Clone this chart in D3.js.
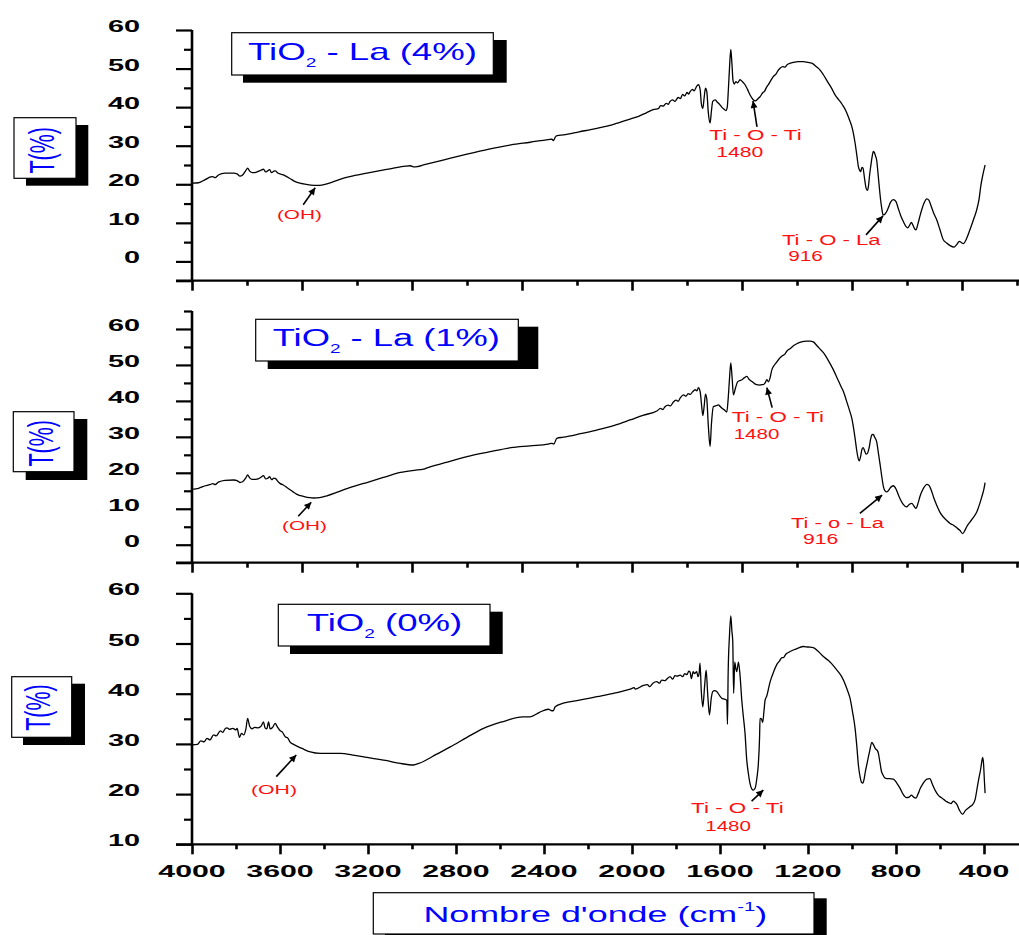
<!DOCTYPE html>
<html>
<head>
<meta charset="utf-8">
<script src="https://cdn.jsdelivr.net/npm/d3@7"></script>
<style>
  html, body { margin: 0; padding: 0; background: #fff; }
  svg { display: block; }
  text { font-family: "Liberation Sans", Arial, Helvetica, sans-serif; }
</style>
</head>
<body>
<svg id="chart" width="1019" height="935"></svg>
<script>
// FTIR spectra, [wavenumber (cm-1), transmittance (%)]
const spectrumLa4 = [
  [4000,20.3],[3970,20.4],[3940,21.2],[3915,21.9],[3905,22.0],[3895,21.7],[3880,22.4],[3850,22.9],
  [3810,22.9],[3795,22.7],[3782,22.1],[3770,22.4],[3755,23.6],[3747,24.2],[3738,23.4],[3725,23.0],
  [3710,23.1],[3697,23.4],[3688,23.6],[3675,23.9],[3665,23.2],[3658,23.4],[3647,23.8],[3638,23.0],
  [3628,23.4],[3620,23.5],[3610,22.9],[3595,22.6],[3576,22.2],[3555,21.5],[3538,20.9],[3510,20.3],
  [3493,20.1],[3460,19.8],[3432,19.7],[3410,19.8],[3387,20.1],[3350,20.8],[3311,21.6],[3260,22.3],
  [3205,22.9],[3140,23.6],[3084,24.2],[3030,24.7],[3008,24.8],[2990,24.5],[2975,24.6],[2948,25.0],
  [2850,26.4],[2750,27.8],[2650,29.1],[2550,30.2],[2463,30.9],[2380,31.6],[2364,31.7],[2358,31.3],
  [2348,32.3],[2340,32.6],[2312,32.8],[2240,33.6],[2160,34.5],[2080,35.6],[2009,36.9],[1970,37.6],
  [1933,38.6],[1900,39.4],[1880,39.6],[1870,40.4],[1857,40.3],[1845,41.0],[1835,40.7],[1827,41.5],
  [1815,41.9],[1805,41.5],[1790,42.5],[1780,42.2],[1770,43.3],[1760,42.9],[1750,43.8],[1742,43.4],
  [1736,44.0],[1725,44.6],[1718,44.2],[1705,45.5],[1698,45.8],[1690,44.5],[1685,41.0],[1678,39.7],
  [1672,42.5],[1666,44.9],[1660,44.0],[1653,38.5],[1645,35.9],[1639,39.0],[1633,41.5],[1622,41.9],
  [1614,41.4],[1607,41.0],[1600,40.6],[1592,40.0],[1582,39.5],[1573,39.1],[1567,40.0],[1562,44.5],
  [1556,51.0],[1551,55.0],[1546,51.5],[1541,47.0],[1535,46.0],[1528,46.6],[1520,46.3],[1509,47.1],
  [1498,46.6],[1486,45.8],[1475,44.6],[1464,43.2],[1450,42.0],[1440,41.6],[1436,41.7],[1425,42.3],
  [1418,42.7],[1405,43.8],[1398,44.1],[1388,45.2],[1375,46.3],[1368,47.0],[1358,47.9],[1345,48.6],
  [1335,49.6],[1327,50.1],[1315,50.5],[1305,50.4],[1295,51.0],[1280,51.4],[1267,51.6],[1245,51.8],
  [1221,51.8],[1200,51.6],[1183,51.4],[1160,50.4],[1145,49.6],[1130,48.4],[1110,46.5],[1090,44.6],
  [1077,43.2],[1060,41.9],[1050,41.2],[1039,40.2],[1025,38.7],[1012,36.8],[1001,35.0],[993,33.0],
  [986,30.7],[978,27.5],[971,24.6],[965,23.6],[960,23.3],[955,24.4],[950,24.2],[943,21.5],
  [936,19.0],[930,18.4],[925,19.6],[920,22.4],[915,24.6],[909,27.0],[903,28.5],[898,28.2],
  [893,27.3],[888,26.3],[882,23.0],[876,19.3],[870,16.0],[864,13.5],[859,12.1],[854,12.1],
  [847,12.5],[840,13.2],[835,13.9],[825,15.3],[812,16.0],[800,15.5],[790,13.8],[778,11.8],
  [767,10.4],[755,9.1],[747,8.7],[738,9.4],[730,10.1],[723,9.4],[715,8.4],[709,8.2],
  [700,9.8],[690,12.0],[683,13.4],[672,15.2],[660,16.2],[650,15.8],[640,14.3],[628,12.4],
  [615,10.8],[600,8.2],[585,5.6],[570,4.8],[554,4.1],[536,3.7],[525,4.3],[512,5.2],
  [503,4.9],[494,4.6],[480,5.8],[464,8.2],[448,10.8],[433,13.4],[422,16.3],[415,19.4],
  [405,22.5],[395,25.0]
];

const spectrumLa1 = [
  [4000,15.4],[3970,15.7],[3940,16.4],[3915,16.8],[3905,17.0],[3895,16.7],[3880,17.4],[3850,17.9],
  [3810,18.0],[3795,17.8],[3782,17.3],[3770,17.5],[3755,18.6],[3747,19.4],[3738,18.6],[3727,18.2],
  [3710,18.2],[3697,18.4],[3688,18.7],[3675,19.2],[3665,18.3],[3655,18.5],[3647,18.9],[3638,18.1],
  [3628,18.5],[3620,18.4],[3610,17.6],[3599,17.0],[3585,16.6],[3569,15.9],[3545,14.9],[3523,14.0],
  [3490,13.4],[3465,13.1],[3447,13.0],[3420,13.1],[3387,13.6],[3340,14.6],[3296,15.6],[3250,16.5],
  [3205,17.3],[3130,18.7],[3053,20.1],[2990,20.7],[2948,21.0],[2935,21.3],[2850,22.8],[2750,24.5],
  [2650,25.8],[2550,27.0],[2463,27.5],[2380,28.0],[2364,28.2],[2355,28.0],[2342,29.6],[2312,29.9],
  [2240,30.8],[2160,31.9],[2080,33.2],[2009,34.7],[1950,36.0],[1887,37.2],[1870,37.9],[1860,37.6],
  [1850,38.4],[1835,38.8],[1825,38.6],[1812,39.7],[1800,40.2],[1790,39.9],[1780,40.9],[1766,41.7],
  [1755,41.3],[1745,42.0],[1735,41.8],[1725,42.5],[1713,43.1],[1705,42.8],[1698,43.7],[1690,42.5],
  [1684,39.0],[1678,35.9],[1672,38.5],[1666,41.9],[1660,40.5],[1653,33.0],[1645,27.3],[1639,33.5],
  [1630,38.4],[1620,38.6],[1607,38.9],[1600,38.5],[1592,38.0],[1580,37.5],[1569,36.9],[1563,40.5],
  [1557,46.0],[1551,50.6],[1545,46.5],[1539,41.7],[1530,43.5],[1520,45.3],[1512,45.6],[1500,45.9],
  [1490,46.4],[1478,46.8],[1468,46.0],[1455,45.4],[1443,44.8],[1433,44.5],[1420,44.4],[1410,44.5],
  [1403,44.5],[1395,45.0],[1387,45.9],[1380,45.3],[1372,46.5],[1365,48.5],[1357,49.6],[1345,50.6],
  [1330,51.8],[1315,52.6],[1305,53.0],[1297,53.8],[1280,54.6],[1265,55.4],[1251,55.9],[1230,56.4],
  [1206,56.6],[1190,56.6],[1176,56.4],[1160,55.4],[1145,54.4],[1130,53.4],[1110,51.5],[1085,48.7],
  [1065,46.0],[1050,44.0],[1039,42.6],[1025,40.0],[1012,37.5],[1001,35.2],[993,32.5],[986,29.6],
  [978,26.0],[971,23.8],[967,23.3],[960,24.8],[955,26.5],[949,27.0],[942,26.0],[936,25.2],
  [930,25.4],[922,27.0],[915,29.5],[909,30.6],[903,30.7],[898,30.0],[888,28.7],[880,25.5],
  [872,22.2],[864,18.7],[857,16.1],[850,15.0],[842,14.7],[835,15.0],[825,15.9],[812,16.4],
  [800,15.5],[790,14.0],[780,12.6],[767,11.2],[752,10.5],[740,11.2],[728,11.5],[718,10.7],
  [709,10.1],[700,11.5],[690,13.6],[683,14.7],[672,16.0],[660,16.8],[650,16.5],[640,15.2],
  [628,13.0],[615,11.0],[600,9.0],[585,7.7],[570,6.8],[554,5.9],[540,5.5],[524,4.7],
  [510,4.0],[497,3.1],[485,4.2],[475,5.4],[464,6.3],[448,7.6],[433,9.1],[420,11.3],
  [410,13.3],[400,15.6],[395,17.3]
];

const spectrumTiO2 = [
  [4000,29.8],[3975,29.9],[3960,30.6],[3945,30.4],[3932,31.1],[3918,30.8],[3902,31.8],[3890,31.6],
  [3871,32.6],[3860,32.3],[3850,33.0],[3841,33.2],[3830,32.9],[3815,33.1],[3800,32.8],[3795,33.1],
  [3784,31.3],[3775,32.1],[3765,31.8],[3755,33.0],[3747,35.1],[3738,33.5],[3727,33.0],[3715,33.3],
  [3700,33.2],[3685,33.6],[3675,34.4],[3668,33.2],[3660,33.0],[3652,34.4],[3645,33.0],[3635,33.2],
  [3622,34.1],[3612,33.4],[3599,32.6],[3590,32.4],[3576,31.4],[3565,31.2],[3555,30.4],[3538,29.9],
  [3500,29.1],[3462,28.4],[3417,28.1],[3370,28.1],[3326,28.1],[3260,27.7],[3205,27.3],[3120,26.7],
  [3053,26.1],[2993,25.8],[2970,26.1],[2948,26.5],[2890,27.9],[2826,29.4],[2750,31.3],[2675,33.1],
  [2590,34.4],[2496,35.4],[2463,35.4],[2420,36.3],[2380,36.9],[2370,36.7],[2358,36.6],[2349,37.4],
  [2312,38.1],[2240,38.7],[2160,39.4],[2080,40.1],[2009,40.9],[1990,41.2],[1985,40.9],[1950,41.6],
  [1930,41.8],[1920,41.4],[1905,42.1],[1887,42.4],[1875,42.1],[1865,42.7],[1850,42.6],[1840,43.0],
  [1827,43.4],[1815,42.9],[1805,43.6],[1795,43.5],[1781,43.7],[1770,43.4],[1760,44.0],[1750,43.8],
  [1742,44.5],[1736,44.3],[1730,43.0],[1722,44.4],[1716,44.0],[1706,44.4],[1700,43.4],[1695,44.0],
  [1691,46.1],[1685,40.5],[1678,37.4],[1670,41.5],[1663,44.7],[1656,40.0],[1648,35.8],[1640,39.0],
  [1633,40.4],[1625,40.6],[1614,40.4],[1600,39.5],[1592,39.1],[1580,38.9],[1569,38.7],[1566,33.9],
  [1563,44.0],[1557,51.5],[1551,55.5],[1546,52.5],[1542,50.4],[1538,40.1],[1533,46.3],[1528,45.0],
  [1524,44.4],[1516,46.3],[1509,43.7],[1501,38.7],[1494,35.5],[1486,32.0],[1479,27.1],[1471,24.1],
  [1464,22.2],[1455,21.0],[1449,20.8],[1440,21.2],[1432,23.3],[1426,25.8],[1420,31.5],[1418,35.1],
  [1412,35.0],[1406,34.3],[1400,36.6],[1395,38.7],[1387,39.6],[1372,42.4],[1355,44.5],[1342,45.8],
  [1330,46.5],[1318,47.2],[1312,47.2],[1300,47.9],[1285,48.3],[1267,48.7],[1245,49.1],[1221,49.4],
  [1200,49.3],[1176,49.2],[1155,48.5],[1130,47.4],[1110,46.7],[1100,46.3],[1085,45.6],[1065,44.5],
  [1047,43.4],[1030,41.8],[1020,40.6],[1009,39.1],[998,36.5],[986,33.1],[978,29.5],[971,25.8],
  [963,23.4],[956,22.3],[951,22.2],[945,23.0],[940,24.3],[933,25.8],[920,28.5],[910,30.3],
  [902,29.8],[893,29.0],[885,28.7],[880,28.1],[873,26.3],[866,24.5],[860,23.9],[850,23.2],
  [842,23.1],[830,23.1],[812,23.0],[795,22.1],[782,21.2],[768,20.0],[752,19.3],[740,19.4],
  [730,19.8],[720,19.4],[709,19.2],[700,20.0],[690,21.1],[676,22.2],[660,23.0],[646,23.1],
  [635,22.0],[620,20.6],[608,19.8],[595,19.3],[582,18.9],[570,18.5],[560,18.3],[550,18.1],
  [540,18.6],[530,18.3],[524,18.0],[512,16.8],[497,16.0],[485,16.7],[475,17.1],[464,17.5],
  [452,17.9],[440,19.0],[430,21.5],[426,22.5],[415,25.0],[406,27.3],[402,26.0],[398,22.5],
  [395,20.2]
];

// Sample names shown in each panel: base formula, subscript, remainder
const sampleNames = [
  ["TiO", "2", " - La (4%)"],
  ["TiO", "2", " - La (1%)"],
  ["TiO", "2", " (0%)"]
];

// Tick values
const xTicksLabeled = [4000, 3600, 3200, 2800, 2400, 2000, 1600, 1200, 800, 400];
const xMinorLabeled = [3800, 3400, 3000, 2600, 2200, 1800, 1400, 1000, 600];
const xTicksPlain = [4000, 3500, 3000, 2500, 2000, 1500, 1000, 500];
const xMinorPlain = [3750, 3250, 2750, 2250, 1750, 1250, 750, 250];
const yTicksTop = [0, 10, 20, 30, 40, 50, 60];
const yMinorTop = [5, 15, 25, 35, 45, 55];
const yTicksMid = [0, 10, 20, 30, 40, 50, 60];
const yMinorMid = [5, 15, 25, 35, 45, 55, 65];
const yTicksBottom = [10, 20, 30, 40, 50, 60];
const yMinorBottom = [15, 25, 35, 45, 55];

// Assigned absorption bands: [wavenumber, transmittance at arrow tip, label lines]
const bandsLa4 = [
  [3440, 19.1, ["(OH)"]],
  [1450, 41.6, ["Ti - O - Ti", "1480"]],
  [859, 11.8, ["Ti - O - La", "916"]]
];
const bandsLa1 = [
  [3458, 11.8, ["(OH)"]],
  [1387, 43.7, ["Ti - O - Ti", "1480"]],
  [863, 13.8, ["Ti - o - La", "916"]]
];
const bandsTiO2 = [
  [3526, 27.8, ["(OH)"]],
  [1403, 20.8, ["Ti - O - Ti", "1480"]]
];

// ---------------------------------------------------------------- layout
const svg = d3.select("#chart");
const BLUE = "#0000ff", RED = "#ff1010";
const AXIS_X = 192;

const x = d3.scaleLinear().domain([4000, 240]).range([AXIS_X, 1019.2]);

const panels = [
  {
    data: spectrumLa4, yDomain: [-5, 60], yRange: [280.7, 30],
    yTicks: yTicksTop, yMinor: yMinorTop, xTicks: xTicksPlain, xMinor: xMinorPlain, xLabels: false,
    name: sampleNames[0], bands: bandsLa4,
    nameBox: [231.7, 32.7, 493.3, 75], nameShadow: [243, 40, 506.7, 82.7], nameText: [362.5, 60, 229],
    yBox: [14, 117.7, 76, 178.3], yShadow: [26, 125, 88.3, 185.7], yText: [54, 150.3],
    bandLayout: [
      { tail: [-12, 17], lines: [[-15.8, 31.5, 45]] },
      { tail: [4, 26], lines: [[2.5, 39, 92.4], [-13.3, 56, 47.3]] },
      { tail: [-17, 19], lines: [[-51.8, 29, 99], [-77.5, 44.7, 35]] }
    ]
  },
  {
    data: spectrumLa1, yDomain: [-5, 65], yRange: [562.7, 311],
    yTicks: yTicksMid, yMinor: yMinorMid, xTicks: xTicksPlain, xMinor: xMinorPlain, xLabels: false,
    name: sampleNames[1], bands: bandsLa1,
    nameBox: [255.7, 319.3, 518.3, 361], nameShadow: [267.7, 326.7, 538.3, 369], nameText: [386.3, 345.7, 227.3],
    yBox: [13.3, 411.7, 74, 471.7], yShadow: [25.7, 419, 87.3, 480], yText: [53.3, 443.3],
    bandLayout: [
      { tail: [-13, 14], lines: [[-6.8, 27.5, 45]] },
      { tail: [5.3, 20], lines: [[11.1, 34.6, 92.3], [-10.4, 51.3, 46]] },
      { tail: [-22.3, 18.3], lines: [[-44.7, 33.3, 93.3], [-61.5, 49.3, 35.6]] }
    ]
  },
  {
    data: spectrumTiO2, yDomain: [10, 60], yRange: [844.3, 593.3],
    yTicks: yTicksBottom, yMinor: yMinorBottom, xTicks: xTicksLabeled, xMinor: xMinorLabeled, xLabels: true,
    name: sampleNames[2], bands: bandsTiO2,
    nameBox: [278.3, 604.3, 490, 646], nameShadow: [290, 611.7, 502.7, 654], nameText: [384.5, 631, 155.6],
    yBox: [11.7, 676.7, 71.7, 737.3], yShadow: [23, 683.7, 85, 745], yText: [50, 707.5],
    bandLayout: [
      { tail: [-20, 21.7], lines: [[-22.3, 39.5, 46]] },
      { tail: [-11.7, 11], lines: [[-26, 23.3, 92.6], [-35.3, 40.7, 46]] }
    ]
  }
];

// Arrowhead used by band annotations
svg.append("defs").append("marker")
  .attr("id", "arrowhead")
  .attr("viewBox", "0 0 10 10")
  .attr("refX", 10).attr("refY", 5)
  .attr("markerWidth", 9).attr("markerHeight", 7)
  .attr("markerUnits", "userSpaceOnUse")
  .attr("orient", "auto")
  .append("path").attr("d", "M0,0 L10,5 L0,10 Z").attr("fill", "#000");

// Text whose horizontal extent is fitted to a given width (wide-set lettering)
function fittedText(parent, cx, baseline, width, build) {
  const g = parent.append("g");
  const t = g.append("text").attr("text-anchor", "middle");
  build(t);
  const w = t.node().getBBox().width || 1;
  g.attr("transform", `translate(${cx},${baseline}) scale(${width / w},1)`);
  return g;
}

// Framed label with a drop shadow
function shadowBox(parent, box, shadow) {
  parent.append("rect")
    .attr("x", shadow[0]).attr("y", shadow[1])
    .attr("width", shadow[2] - shadow[0]).attr("height", shadow[3] - shadow[1])
    .attr("fill", "#000");
  parent.append("rect")
    .attr("x", box[0]).attr("y", box[1])
    .attr("width", box[2] - box[0]).attr("height", box[3] - box[1])
    .attr("fill", "#fff").attr("stroke", "#000").attr("stroke-width", 1.2);
}

const line = d3.line().curve(d3.curveMonotoneX);

panels.forEach(p => {
  const y = d3.scaleLinear().domain(p.yDomain).range(p.yRange);
  const g = svg.append("g");
  const base = p.yRange[0], top = p.yRange[1];

  // spectrum
  g.append("path")
    .attr("d", line.x(d => x(d[0])).y(d => y(d[1]))(p.data))
    .attr("fill", "none").attr("stroke", "#000").attr("stroke-width", 1.3)
    .attr("stroke-linejoin", "round");

  // y axis: major and minor ticks
  const yMajorAll = [p.yDomain[0]].concat(p.yTicks.filter(v => v !== p.yDomain[0]));
  const yMaj = g.append("g").attr("transform", `translate(${AXIS_X},0)`)
    .call(d3.axisLeft(y).tickValues(yMajorAll).tickSize(16).tickFormat(""));
  const yMin = g.append("g").attr("transform", `translate(${AXIS_X},0)`)
    .call(d3.axisLeft(y).tickValues(p.yMinor).tickSize(8).tickFormat(""));
  [yMaj, yMin].forEach(a => {
    a.select(".domain").remove();
    a.selectAll("line").attr("stroke", "#000").attr("stroke-width", 2.2);
  });

  // x axis: major and minor ticks
  const xMaj = g.append("g").attr("transform", `translate(0,${base})`)
    .call(d3.axisBottom(x).tickValues(p.xTicks).tickSize(10).tickFormat(""));
  const xMin = g.append("g").attr("transform", `translate(0,${base})`)
    .call(d3.axisBottom(x).tickValues(p.xMinor).tickSize(5).tickFormat(""));
  [xMaj, xMin].forEach(a => {
    a.select(".domain").remove();
    a.selectAll("line").attr("stroke", "#000").attr("stroke-width", 2.6);
  });

  // axis lines
  g.append("line").attr("x1", AXIS_X).attr("x2", AXIS_X).attr("y1", top).attr("y2", base)
    .attr("stroke", "#000").attr("stroke-width", 2.6);
  g.append("line").attr("x1", AXIS_X - 16).attr("x2", 1019).attr("y1", base).attr("y2", base)
    .attr("stroke", "#000").attr("stroke-width", 2.2);

  // y tick labels
  p.yTicks.forEach(v => {
    g.append("g").attr("transform", `translate(140,${y(v) + 2}) scale(1.75,1)`)
      .append("text").attr("text-anchor", "end")
      .attr("font-size", 16.5).attr("font-weight", "bold").attr("fill", "#000")
      .text(v);
  });

  // x tick labels
  if (p.xLabels) {
    p.xTicks.forEach(v => {
      g.append("g").attr("transform", `translate(${x(v)},${base + 32.4}) scale(1.78,1)`)
        .append("text").attr("text-anchor", "middle")
        .attr("font-size", 17).attr("font-weight", "bold").attr("fill", "#000")
        .text(v);
    });
  }

  // sample name box
  shadowBox(g, p.nameBox, p.nameShadow);
  fittedText(g, p.nameText[0], p.nameText[1], p.nameText[2], t => {
    t.attr("font-size", 23).attr("fill", BLUE);
    t.append("tspan").text(p.name[0]);
    t.append("tspan").attr("font-size", 12).attr("dy", 7).text(p.name[1]);
    t.append("tspan").attr("dy", -7).text(p.name[2]);
  });

  // y axis title box
  shadowBox(g, p.yBox, p.yShadow);
  g.append("g").attr("transform", `translate(${p.yText[0]},${p.yText[1]}) scale(1.65,1) rotate(-90)`)
    .append("text").attr("text-anchor", "middle")
    .attr("font-size", 21.5).attr("fill", BLUE).text("T(%)");

  // band annotations
  p.bands.forEach((b, i) => {
    const lay = p.bandLayout[i];
    const tx = x(b[0]), ty = y(b[1]);
    g.append("line")
      .attr("x1", tx + lay.tail[0]).attr("y1", ty + lay.tail[1])
      .attr("x2", tx).attr("y2", ty)
      .attr("stroke", "#000").attr("stroke-width", 1.6)
      .attr("marker-end", "url(#arrowhead)");
    b[2].forEach((s, j) => {
      const l = lay.lines[j];
      fittedText(g, tx + l[0], ty + l[1], l[2], t => {
        t.attr("font-size", b[2].length > 1 ? 14 : 13).attr("fill", RED).text(s);
      });
    });
  });
});

// x axis title
shadowBox(svg, [373.3, 892.7, 814, 934], [385, 898.3, 826.7, 940]);
fittedText(svg, 595.3, 921.7, 344, t => {
  t.attr("font-size", 23).attr("fill", BLUE);
  t.append("tspan").text("Nombre d'onde (cm");
  t.append("tspan").attr("font-size", 13).attr("dy", -11).text("-1");
  t.append("tspan").attr("dy", 11).text(")");
});
</script>
</body>
</html>
